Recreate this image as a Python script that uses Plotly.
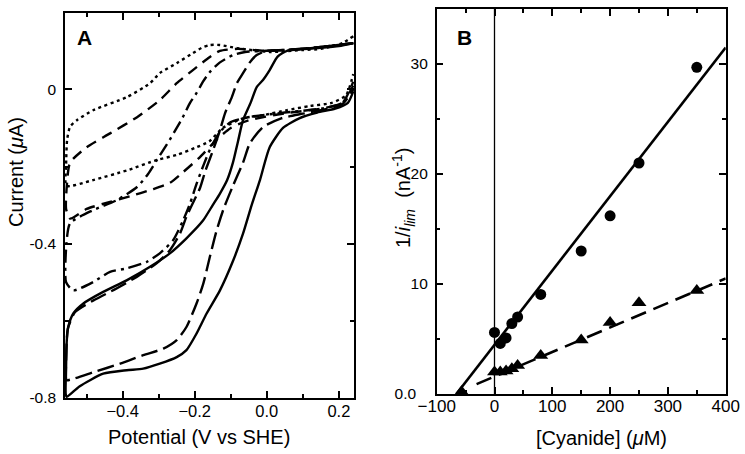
import plotly.graph_objects as go

W, H = 745, 454

# ---------------- Panel A data (cyclic voltammograms, V vs SHE / uA) ----------------
solid_x = [0.24, 0.20, 0.14, 0.08, 0.056, 0.03, 0.008, -0.01, -0.028, -0.045, -0.066, -0.08, -0.094,
           -0.11, -0.13, -0.15, -0.177, -0.223, -0.269, -0.324, -0.389, -0.454, -0.509, -0.537, -0.551,
           -0.555, -0.557, -0.558, -0.555, -0.52, -0.454, -0.389, -0.343, -0.297, -0.25, -0.223, -0.195,
           -0.167, -0.13, -0.093, -0.066, -0.042, -0.019, 0.008, 0.045, 0.09, 0.14, 0.19, 0.225, 0.24]
solid_y = [0.12, 0.112, 0.107, 0.103, 0.10, 0.085, 0.05, 0.025, 0.006, -0.035, -0.08, -0.135, -0.19,
           -0.235, -0.27, -0.30, -0.34, -0.386, -0.425, -0.46, -0.495, -0.525, -0.555, -0.581, -0.616,
           -0.65, -0.72, -0.79, -0.797, -0.77, -0.737, -0.728, -0.724, -0.711, -0.694, -0.676, -0.633,
           -0.581, -0.521, -0.443, -0.374, -0.30, -0.235, -0.15, -0.10, -0.075, -0.06, -0.05, -0.035, -0.005]

longdash_x = [0.24, 0.15, 0.05, 0.0, -0.028, -0.047, -0.066, -0.083, -0.097, -0.116, -0.13, -0.15, -0.17,
              -0.185, -0.2, -0.223, -0.241, -0.269, -0.306, -0.361, -0.417, -0.481, -0.532, -0.552, -0.557,
              -0.557, -0.555, -0.481, -0.407, -0.343, -0.287, -0.25, -0.223, -0.195, -0.176, -0.158, -0.139,
              -0.12, -0.094, -0.066, -0.047, -0.011, 0.04, 0.1, 0.16, 0.21, 0.24]
longdash_y = [0.12, 0.11, 0.102, 0.10, 0.089, 0.07, 0.042, 0.016, -0.02, -0.062, -0.106, -0.16, -0.21,
              -0.255, -0.285, -0.33, -0.374, -0.417, -0.451, -0.486, -0.516, -0.547, -0.577, -0.62, -0.70,
              -0.75, -0.754, -0.733, -0.711, -0.689, -0.672, -0.65, -0.616, -0.555, -0.503, -0.434, -0.365,
              -0.31, -0.25, -0.19, -0.14, -0.098, -0.075, -0.063, -0.052, -0.038, 0.0]

dashdot_x = [0.24, 0.10, 0.0, -0.06, -0.094, -0.13, -0.158, -0.177, -0.194, -0.213, -0.233, -0.25, -0.269,
             -0.305, -0.33, -0.36, -0.416, -0.482, -0.546, -0.556, -0.557, -0.537, -0.481, -0.435, -0.389,
             -0.333, -0.297, -0.26, -0.232, -0.213, -0.195, -0.175, -0.155, -0.13, -0.10, -0.05, 0.05, 0.15,
             0.21, 0.24]
dashdot_y = [0.12, 0.105, 0.10, 0.097, 0.089, 0.07, 0.045, 0.02, -0.008, -0.035, -0.072, -0.10, -0.13,
             -0.183, -0.22, -0.253, -0.287, -0.313, -0.347, -0.40, -0.50, -0.521, -0.499, -0.473, -0.464,
             -0.447, -0.425, -0.391, -0.339, -0.296, -0.245, -0.195, -0.15, -0.11, -0.085, -0.072, -0.06,
             -0.05, -0.035, 0.01]

shortdash_x = [0.24, 0.10, 0.0, -0.08, -0.13, -0.158, -0.205, -0.25, -0.297, -0.36, -0.435, -0.50, -0.546,
               -0.555, -0.557, -0.546, -0.50, -0.44, -0.38, -0.32, -0.27, -0.233, -0.186, -0.139, -0.10,
               -0.05, 0.05, 0.15, 0.21, 0.24]
shortdash_y = [0.12, 0.105, 0.10, 0.105, 0.10, 0.084, 0.05, 0.016, -0.028, -0.072, -0.114, -0.15, -0.19,
               -0.25, -0.31, -0.335, -0.31, -0.293, -0.277, -0.26, -0.243, -0.215, -0.176, -0.13, -0.10,
               -0.08, -0.062, -0.05, -0.035, 0.02]

dotted_x = [0.24, 0.21, 0.15, 0.10, 0.008, -0.083, -0.13, -0.158, -0.18, -0.205, -0.25, -0.297, -0.324,
            -0.388, -0.482, -0.527, -0.546, -0.554, -0.557, -0.556, -0.482, -0.388, -0.305, -0.25, -0.20,
            -0.16, -0.122, -0.066, -0.011, 0.056, 0.12, 0.18, 0.22, 0.24]
dotted_y = [0.138, 0.12, 0.105, 0.102, 0.097, 0.107, 0.115, 0.115, 0.108, 0.094, 0.068, 0.042, 0.016,
            -0.02, -0.054, -0.08, -0.097, -0.13, -0.20, -0.25, -0.235, -0.21, -0.183, -0.17, -0.152,
            -0.135, -0.10, -0.075, -0.067, -0.054, -0.043, -0.035, -0.015, 0.04]

a_xtick_vals = [-0.4, -0.2, 0.0, 0.2]
a_xtick_text = ["\u22120.4", "\u22120.2", "0.0", "0.2"]
a_ytick_vals = [0, -0.4, -0.8]
a_ytick_text = ["0", "-0.4", "-0.8"]

# ---------------- Panel B data ----------------
cyanide_circ = [0, 10, 20, 30, 40, 80, 150, 200, 250, 350]
inv_ilim_circ = [5.6, 4.6, 5.1, 6.4, 7.0, 9.05, 13.0, 16.2, 21.0, 29.7]
cyanide_tri = [0, 10, 20, 30, 40, 80, 150, 200, 250, 350, -57]
inv_ilim_tri = [2.0, 2.0, 2.1, 2.3, 2.6, 3.5, 4.9, 6.5, 8.3, 9.4, 0.2]
fit_circ_x = [-66, 400]
fit_circ_y = [0.0, 31.5]
fit_tri_x = [-31, 400]
fit_tri_y = [0.9, 10.5]

b_xtick_vals = [-100, 0, 100, 200, 300, 400]
b_xtick_text = ["\u2212100", "0", "100", "200", "300", "400"]
b_ytick_vals = [0, 10, 20, 30]
b_ytick_text = ["0.0\u2007\u2009", "10", "20", "30"]

FONT = "Liberation Sans, Arial, sans-serif"
LW = 2.4

fig = go.Figure()

curves = [
    (solid_x, solid_y, "solid"),
    (longdash_x, longdash_y, "17px,6px"),
    (dashdot_x, dashdot_y, "13px,5px,3px,5px"),
    (shortdash_x, shortdash_y, "11px,7px"),
    (dotted_x, dotted_y, "3px,3.5px"),
]
for xs, ys, dash in curves:
    fig.add_trace(go.Scatter(x=xs, y=ys, mode="lines", xaxis="x", yaxis="y",
                             line=dict(color="black", width=LW, dash=dash, shape="spline", smoothing=0.6),
                             showlegend=False))

fig.add_trace(go.Scatter(x=fit_circ_x, y=fit_circ_y, mode="lines", xaxis="x2", yaxis="y2",
                         line=dict(color="black", width=2.6), showlegend=False))
fig.add_trace(go.Scatter(x=fit_tri_x, y=fit_tri_y, mode="lines", xaxis="x2", yaxis="y2",
                         line=dict(color="black", width=2.6, dash="16px,8px"), showlegend=False))
fig.add_trace(go.Scatter(x=cyanide_circ, y=inv_ilim_circ, mode="markers", xaxis="x2", yaxis="y2",
                         marker=dict(symbol="circle", size=11, color="black"), showlegend=False))
fig.add_trace(go.Scatter(x=cyanide_tri, y=inv_ilim_tri, mode="markers", xaxis="x2", yaxis="y2",
                         marker=dict(symbol="triangle-up", size=13, color="black"), showlegend=False))

def px_x(p):
    return p / W

def px_y(p):
    return 1 - p / H

def axis_common(size, standoff):
    return dict(showline=True, linecolor="black", linewidth=1.5, mirror="ticks", ticks="inside",
                ticklen=7, tickwidth=1.5, tickcolor="black", showgrid=False, zeroline=False,
                automargin=False, ticklabelstandoff=standoff,
                tickfont=dict(family=FONT, size=size, color="black"))

def minor(vals):
    return dict(tickvals=vals, ticks="inside", ticklen=4, tickwidth=1.5, tickcolor="black")

fig.update_layout(
    width=W, height=H, margin=dict(l=0, r=0, t=0, b=0, autoexpand=False),
    paper_bgcolor="white", plot_bgcolor="white",
    xaxis=dict(domain=[px_x(65), px_x(354)], range=[-0.56, 0.242], anchor="y",
               tickvals=a_xtick_vals, ticktext=a_xtick_text, minor=minor([-0.5, -0.3, -0.1, 0.1]),
               **axis_common(16.5, -3)),
    yaxis=dict(domain=[px_y(398), px_y(13)], range=[-0.8, 0.198], anchor="x",
               tickvals=a_ytick_vals, ticktext=a_ytick_text, minor=minor([-0.2, -0.6]),
               **axis_common(15.5, 4)),
    xaxis2=dict(domain=[px_x(436.7), px_x(725.7)], range=[-100, 400], anchor="y2",
                tickvals=b_xtick_vals, ticktext=b_xtick_text, minor=minor([-50, 50, 150, 250, 350]),
                **axis_common(17, -4)),
    yaxis2=dict(domain=[px_y(394), px_y(9)], range=[0, 35], anchor="x2",
                tickvals=b_ytick_vals, ticktext=b_ytick_text, minor=minor([5, 15, 25]),
                **axis_common(15.5, 4)),
    shapes=[dict(type="line", xref="x2", yref="y2 domain", x0=0, x1=0, y0=0, y1=1,
                 line=dict(color="black", width=1.3))],
)

ann_font = dict(family=FONT, size=20, color="black")
def label(x, y, text, font=ann_font, angle=0):
    fig.add_annotation(x=px_x(x), y=px_y(y), xref="paper", yref="paper", showarrow=False,
                       xanchor="center", yanchor="middle", text=text, font=font, textangle=angle)

label(199, 437, "Potential (V vs SHE)")
label(16, 172, "Current (<i>\u03bc</i>A)", angle=-90)
label(601, 438, "[Cyanide] (<i>\u03bc</i>M)")
label(403, 198, "1/<i>i</i><sub><i>lim</i></sub>  (nA<sup>-1</sup>)", angle=-90)
label(84, 38, "<b>A</b>", font=dict(family=FONT, size=21, color="black"))
label(464, 38, "<b>B</b>", font=dict(family=FONT, size=21, color="black"))

fig.write_html("out.html", config={"displayModeBar": False},
               post_script="document.body.style.margin='0px';document.body.style.overflow='hidden';")
